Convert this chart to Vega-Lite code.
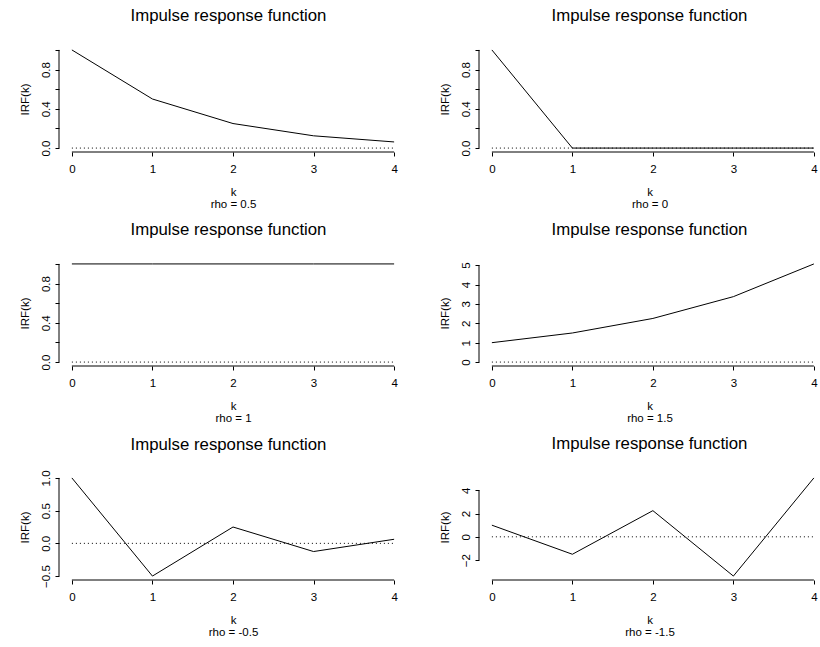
{
  "$schema": "https://vega.github.io/schema/vega-lite/v6.json",
  "background": "white",
  "padding": {"left": 19, "top": 8, "right": 0, "bottom": 0},
  "bounds": "flush",
  "spacing": {"row": 108, "column": 72},
  "columns": 2,
  "config": {
    "font": "Liberation Sans",
    "view": {"stroke": null},
    "title": {"fontSize": 16.8, "fontWeight": "normal", "color": "black", "font": "Liberation Sans", "anchor": "middle", "frame": "group", "baseline": "alphabetic", "offset": 21},
    "axis": {"grid": false, "domain": false, "tickColor": "black", "tickSize": 4, "labelColor": "black", "labelFontSize": 11.5, "labelFont": "Liberation Sans", "titleFont": "Liberation Sans", "titleFontSize": 11.5, "titleFontWeight": "normal", "titleColor": "black", "labelOverlap": false, "labelFlush": false},
    "axisX": {"labelPadding": 7, "titlePadding": 12, "titleLineHeight": 12},
    "axisY": {"labelAngle": -90, "labelAlign": "center", "labelBaseline": "bottom", "labelPadding": 4, "titlePadding": 10}
  },
  "data": {"values": [
    {"rho": "0.5", "k": 0, "irf": 1}, {"rho": "0.5", "k": 1, "irf": 0.5}, {"rho": "0.5", "k": 2, "irf": 0.25}, {"rho": "0.5", "k": 3, "irf": 0.125}, {"rho": "0.5", "k": 4, "irf": 0.0625},
    {"rho": "0", "k": 0, "irf": 1}, {"rho": "0", "k": 1, "irf": 0}, {"rho": "0", "k": 2, "irf": 0}, {"rho": "0", "k": 3, "irf": 0}, {"rho": "0", "k": 4, "irf": 0},
    {"rho": "1", "k": 0, "irf": 1}, {"rho": "1", "k": 1, "irf": 1}, {"rho": "1", "k": 2, "irf": 1}, {"rho": "1", "k": 3, "irf": 1}, {"rho": "1", "k": 4, "irf": 1},
    {"rho": "1.5", "k": 0, "irf": 1}, {"rho": "1.5", "k": 1, "irf": 1.5}, {"rho": "1.5", "k": 2, "irf": 2.25}, {"rho": "1.5", "k": 3, "irf": 3.375}, {"rho": "1.5", "k": 4, "irf": 5.0625},
    {"rho": "-0.5", "k": 0, "irf": 1}, {"rho": "-0.5", "k": 1, "irf": -0.5}, {"rho": "-0.5", "k": 2, "irf": 0.25}, {"rho": "-0.5", "k": 3, "irf": -0.125}, {"rho": "-0.5", "k": 4, "irf": 0.0625},
    {"rho": "-1.5", "k": 0, "irf": 1}, {"rho": "-1.5", "k": 1, "irf": -1.5}, {"rho": "-1.5", "k": 2, "irf": 2.25}, {"rho": "-1.5", "k": 3, "irf": -3.375}, {"rho": "-1.5", "k": 4, "irf": 5.0625}
  ]},
  "concat": [
    {
      "width": 348, "height": 106,
      "title": {"text": "Impulse response function", "dx": -4.5},
      "resolve": {"axis": {"x": "independent", "y": "independent"}},
      "layer": [
        {"transform": [{"filter": "datum.rho == '0.5'"}],
         "mark": {"type": "line", "color": "black", "strokeWidth": 1},
         "encoding": {
           "x": {"field": "k", "type": "quantitative", "scale": {"domain": [-0.16, 4.16], "nice": false, "zero": false}, "axis": {"values": [0, 1, 2, 3, 4], "format": "d", "labelOverlap": false, "title": ["k", "rho = 0.5"]}},
           "y": {"field": "irf", "type": "quantitative", "scale": {"domain": [-0.04, 1.04], "nice": false, "zero": false}, "axis": {"values": [0, 0.2, 0.4, 0.6, 0.8, 1], "labelOverlap": false, "labelExpr": "datum.value == 0 || datum.value == 0.4 || datum.value == 0.8 ? format(datum.value, '.1f') : ''", "title": "IRF(k)"}}
         }},
        {"data": {"values": [{}]}, "mark": {"type": "rule", "color": "black", "strokeWidth": 1, "strokeDash": [1, 3]},
         "encoding": {"x": {"datum": 0, "axis": null}, "x2": {"datum": 4}, "y": {"datum": 0, "axis": null}}},
        {"data": {"values": [{}]}, "mark": {"type": "rule", "color": "black", "strokeWidth": 1},
         "encoding": {"x": {"datum": 0, "axis": null}, "x2": {"datum": 4}, "y": {"datum": -0.04, "axis": null}}},
        {"data": {"values": [{}]}, "mark": {"type": "rule", "color": "black", "strokeWidth": 1},
         "encoding": {"x": {"datum": -0.16, "axis": null}, "y": {"datum": 0, "axis": null}, "y2": {"datum": 1}}}
      ]
    },
    {
      "width": 341, "height": 106,
      "title": "Impulse response function",
      "resolve": {"axis": {"x": "independent", "y": "independent"}},
      "layer": [
        {"transform": [{"filter": "datum.rho == '0'"}],
         "mark": {"type": "line", "color": "black", "strokeWidth": 1},
         "encoding": {
           "x": {"field": "k", "type": "quantitative", "scale": {"domain": [-0.16, 4.076], "nice": false, "zero": false}, "axis": {"values": [0, 1, 2, 3, 4], "format": "d", "labelOverlap": false, "title": ["k", "rho = 0"]}},
           "y": {"field": "irf", "type": "quantitative", "scale": {"domain": [-0.04, 1.04], "nice": false, "zero": false}, "axis": {"values": [0, 0.2, 0.4, 0.6, 0.8, 1], "labelOverlap": false, "labelExpr": "datum.value == 0 || datum.value == 0.4 || datum.value == 0.8 ? format(datum.value, '.1f') : ''", "title": "IRF(k)"}}
         }},
        {"data": {"values": [{}]}, "mark": {"type": "rule", "color": "black", "strokeWidth": 1, "strokeDash": [1, 3]},
         "encoding": {"x": {"datum": 0, "axis": null}, "x2": {"datum": 4}, "y": {"datum": 0, "axis": null}}},
        {"data": {"values": [{}]}, "mark": {"type": "rule", "color": "black", "strokeWidth": 1},
         "encoding": {"x": {"datum": 0, "axis": null}, "x2": {"datum": 4}, "y": {"datum": -0.04, "axis": null}}},
        {"data": {"values": [{}]}, "mark": {"type": "rule", "color": "black", "strokeWidth": 1},
         "encoding": {"x": {"datum": -0.16, "axis": null}, "y": {"datum": 0, "axis": null}, "y2": {"datum": 1}}}
      ]
    },
    {
      "width": 348, "height": 106,
      "title": {"text": "Impulse response function", "dx": -4.5},
      "resolve": {"axis": {"x": "independent", "y": "independent"}},
      "layer": [
        {"transform": [{"filter": "datum.rho == '1'"}],
         "mark": {"type": "line", "color": "black", "strokeWidth": 1},
         "encoding": {
           "x": {"field": "k", "type": "quantitative", "scale": {"domain": [-0.16, 4.16], "nice": false, "zero": false}, "axis": {"values": [0, 1, 2, 3, 4], "format": "d", "labelOverlap": false, "title": ["k", "rho = 1"]}},
           "y": {"field": "irf", "type": "quantitative", "scale": {"domain": [-0.04, 1.04], "nice": false, "zero": false}, "axis": {"values": [0, 0.2, 0.4, 0.6, 0.8, 1], "labelOverlap": false, "labelExpr": "datum.value == 0 || datum.value == 0.4 || datum.value == 0.8 ? format(datum.value, '.1f') : ''", "title": "IRF(k)"}}
         }},
        {"data": {"values": [{}]}, "mark": {"type": "rule", "color": "black", "strokeWidth": 1, "strokeDash": [1, 3]},
         "encoding": {"x": {"datum": 0, "axis": null}, "x2": {"datum": 4}, "y": {"datum": 0, "axis": null}}},
        {"data": {"values": [{}]}, "mark": {"type": "rule", "color": "black", "strokeWidth": 1},
         "encoding": {"x": {"datum": 0, "axis": null}, "x2": {"datum": 4}, "y": {"datum": -0.04, "axis": null}}},
        {"data": {"values": [{}]}, "mark": {"type": "rule", "color": "black", "strokeWidth": 1},
         "encoding": {"x": {"datum": -0.16, "axis": null}, "y": {"datum": 0, "axis": null}, "y2": {"datum": 1}}}
      ]
    },
    {
      "width": 341, "height": 106,
      "title": "Impulse response function",
      "resolve": {"axis": {"x": "independent", "y": "independent"}},
      "layer": [
        {"transform": [{"filter": "datum.rho == '1.5'"}],
         "mark": {"type": "line", "color": "black", "strokeWidth": 1},
         "encoding": {
           "x": {"field": "k", "type": "quantitative", "scale": {"domain": [-0.16, 4.076], "nice": false, "zero": false}, "axis": {"values": [0, 1, 2, 3, 4], "format": "d", "labelOverlap": false, "title": ["k", "rho = 1.5"]}},
           "y": {"field": "irf", "type": "quantitative", "scale": {"domain": [-0.2025, 5.265], "nice": false, "zero": false}, "axis": {"values": [0, 1, 2, 3, 4, 5], "format": "d", "labelOverlap": false, "title": "IRF(k)"}}
         }},
        {"data": {"values": [{}]}, "mark": {"type": "rule", "color": "black", "strokeWidth": 1, "strokeDash": [1, 3]},
         "encoding": {"x": {"datum": 0, "axis": null}, "x2": {"datum": 4}, "y": {"datum": 0, "axis": null}}},
        {"data": {"values": [{}]}, "mark": {"type": "rule", "color": "black", "strokeWidth": 1},
         "encoding": {"x": {"datum": 0, "axis": null}, "x2": {"datum": 4}, "y": {"datum": -0.2025, "axis": null}}},
        {"data": {"values": [{}]}, "mark": {"type": "rule", "color": "black", "strokeWidth": 1},
         "encoding": {"x": {"datum": -0.16, "axis": null}, "y": {"datum": 0, "axis": null}, "y2": {"datum": 5}}}
      ]
    },
    {
      "width": 348, "height": 106,
      "title": {"text": "Impulse response function", "offset": 16, "dx": -4.5},
      "resolve": {"axis": {"x": "independent", "y": "independent"}},
      "layer": [
        {"transform": [{"filter": "datum.rho == '-0.5'"}],
         "mark": {"type": "line", "color": "black", "strokeWidth": 1},
         "encoding": {
           "x": {"field": "k", "type": "quantitative", "scale": {"domain": [-0.16, 4.16], "nice": false, "zero": false}, "axis": {"values": [0, 1, 2, 3, 4], "format": "d", "labelOverlap": false, "title": ["k", "rho = -0.5"]}},
           "y": {"field": "irf", "type": "quantitative", "scale": {"domain": [-0.56, 1.06], "nice": false, "zero": false}, "axis": {"values": [-0.5, 0, 0.5, 1], "format": ".1f", "labelOverlap": false, "title": "IRF(k)"}}
         }},
        {"data": {"values": [{}]}, "mark": {"type": "rule", "color": "black", "strokeWidth": 1, "strokeDash": [1, 3]},
         "encoding": {"x": {"datum": 0, "axis": null}, "x2": {"datum": 4}, "y": {"datum": 0, "axis": null}}},
        {"data": {"values": [{}]}, "mark": {"type": "rule", "color": "black", "strokeWidth": 1},
         "encoding": {"x": {"datum": 0, "axis": null}, "x2": {"datum": 4}, "y": {"datum": -0.56, "axis": null}}},
        {"data": {"values": [{}]}, "mark": {"type": "rule", "color": "black", "strokeWidth": 1},
         "encoding": {"x": {"datum": -0.16, "axis": null}, "y": {"datum": -0.5, "axis": null}, "y2": {"datum": 1}}}
      ]
    },
    {
      "width": 341, "height": 106,
      "title": "Impulse response function",
      "resolve": {"axis": {"x": "independent", "y": "independent"}},
      "layer": [
        {"transform": [{"filter": "datum.rho == '-1.5'"}],
         "mark": {"type": "line", "color": "black", "strokeWidth": 1},
         "encoding": {
           "x": {"field": "k", "type": "quantitative", "scale": {"domain": [-0.16, 4.076], "nice": false, "zero": false}, "axis": {"values": [0, 1, 2, 3, 4], "format": "d", "labelOverlap": false, "title": ["k", "rho = -1.5"]}},
           "y": {"field": "irf", "type": "quantitative", "scale": {"domain": [-3.7125, 5.4], "nice": false, "zero": false}, "axis": {"values": [-2, 0, 2, 4], "format": "d", "labelOverlap": false, "title": "IRF(k)"}}
         }},
        {"data": {"values": [{}]}, "mark": {"type": "rule", "color": "black", "strokeWidth": 1, "strokeDash": [1, 3]},
         "encoding": {"x": {"datum": 0, "axis": null}, "x2": {"datum": 4}, "y": {"datum": 0, "axis": null}}},
        {"data": {"values": [{}]}, "mark": {"type": "rule", "color": "black", "strokeWidth": 1},
         "encoding": {"x": {"datum": 0, "axis": null}, "x2": {"datum": 4}, "y": {"datum": -3.7125, "axis": null}}},
        {"data": {"values": [{}]}, "mark": {"type": "rule", "color": "black", "strokeWidth": 1},
         "encoding": {"x": {"datum": -0.16, "axis": null}, "y": {"datum": -2, "axis": null}, "y2": {"datum": 4}}}
      ]
    }
  ]
}
